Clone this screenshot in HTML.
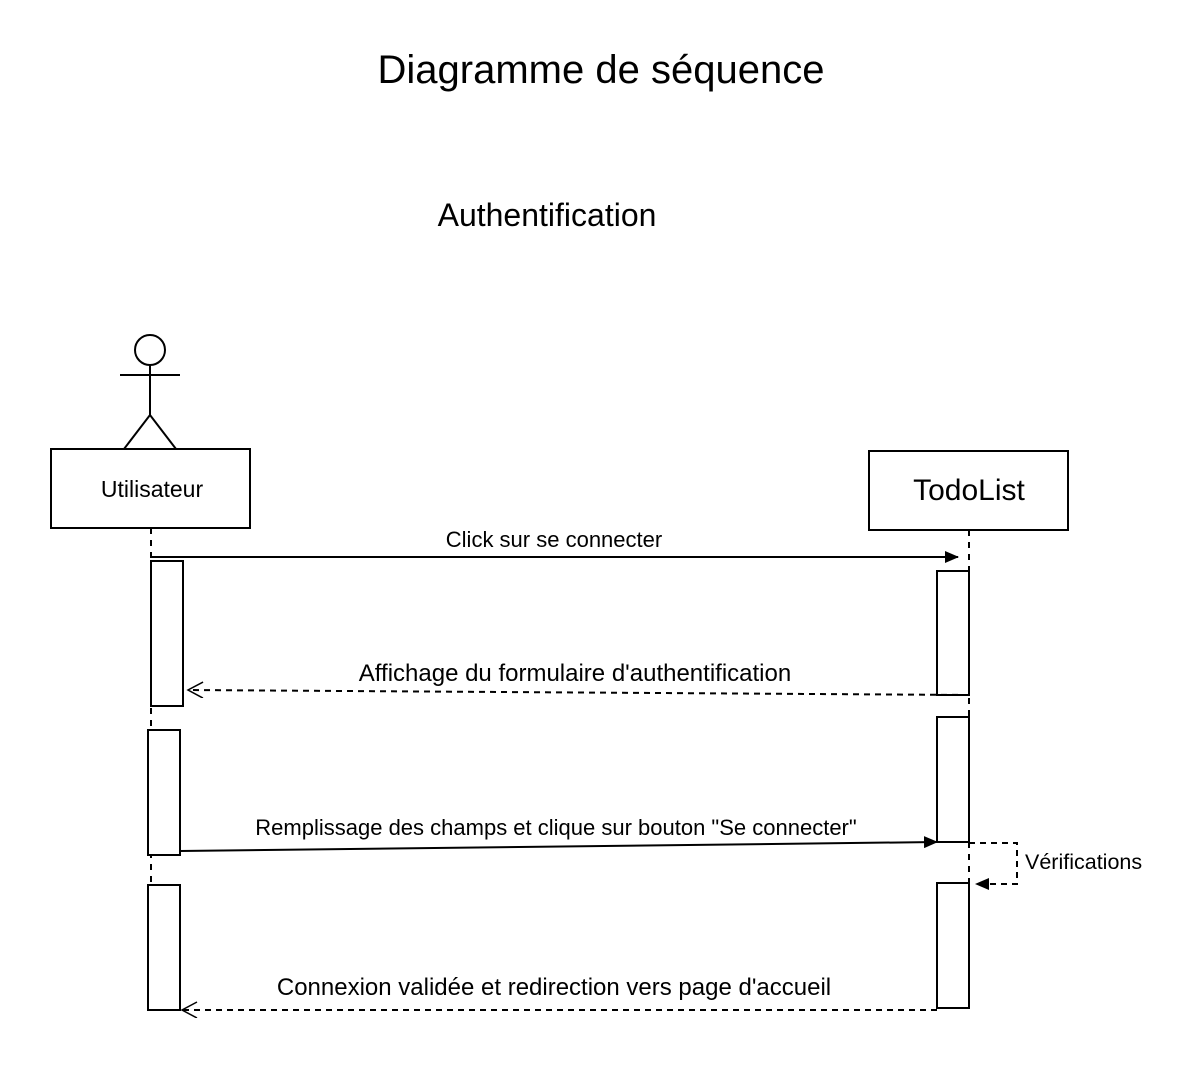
<!DOCTYPE html>
<html><head><meta charset="utf-8"><style>body{margin:0;background:#fff}svg{display:block}text{font-family:"Liberation Sans",sans-serif;fill:#000}</style></head><body>
<svg width="1194" height="1082" viewBox="0 0 1194 1082" xmlns="http://www.w3.org/2000/svg">
<defs>
<marker id="f" markerWidth="14" markerHeight="12" refX="13" refY="6" orient="auto" markerUnits="userSpaceOnUse"><path d="M0,0 L14,6 L0,12 z" fill="#000"/></marker>
<marker id="o" markerWidth="18" markerHeight="18" refX="16" refY="8" orient="auto" markerUnits="userSpaceOnUse"><path d="M1,0 L16,8 L1,16" fill="none" stroke="#000" stroke-width="1.5"/></marker>
</defs>
<text x="601" y="83" font-size="40" text-anchor="middle">Diagramme de séquence</text>
<text x="547" y="226" font-size="32" text-anchor="middle">Authentification</text>
<g stroke="#000" stroke-width="2" fill="none">
<circle cx="150" cy="350" r="15" fill="#fff"/>
<line x1="150" y1="365" x2="150" y2="415"/>
<line x1="120" y1="375" x2="180" y2="375"/>
<polyline points="124,449 150,415 176,449"/>
</g>
<rect x="51" y="449" width="199" height="79" fill="#fff" stroke="#000" stroke-width="2"/>
<text x="152" y="497" font-size="23" text-anchor="middle">Utilisateur</text>
<rect x="869" y="451" width="199" height="79" fill="#fff" stroke="#000" stroke-width="2"/>
<text x="969" y="500" font-size="30" text-anchor="middle">TodoList</text>
<g stroke="#000" stroke-width="2" stroke-dasharray="6,6">
<line x1="151" y1="528" x2="151" y2="1010"/>
<line x1="969" y1="530" x2="969" y2="1008"/>
</g>
<g fill="#fff" stroke="#000" stroke-width="2">
<rect x="151" y="561" width="32" height="145"/>
<rect x="148" y="730" width="32" height="125"/>
<rect x="148" y="885" width="32" height="125"/>
<rect x="937" y="571" width="32" height="124"/>
<rect x="937" y="717" width="32" height="125"/>
<rect x="937" y="883" width="32" height="125"/>
</g>
<g stroke="#000" stroke-width="2" fill="none">
<line x1="151" y1="557" x2="958" y2="557" marker-end="url(#f)"/>
<line x1="969" y1="695" x2="188" y2="690" stroke-dasharray="6,5" marker-end="url(#o)"/>
<line x1="180" y1="851" x2="937" y2="842" marker-end="url(#f)"/>
<polyline points="969,843 1017,843 1017,884 976,884" stroke-dasharray="6,5" marker-end="url(#f)"/>
<line x1="937" y1="1010" x2="182" y2="1010" stroke-dasharray="6,5" marker-end="url(#o)"/>
</g>
<text x="554" y="547" font-size="22" text-anchor="middle">Click sur se connecter</text>
<rect x="358" y="660" width="434" height="24" fill="#fff"/>
<text x="575" y="681" font-size="24" text-anchor="middle">Affichage du formulaire d'authentification</text>
<rect x="255" y="816" width="602" height="24" fill="#fff"/>
<text x="556" y="835" font-size="22" text-anchor="middle">Remplissage des champs et clique sur bouton "Se connecter"</text>
<text x="1025" y="869" font-size="21.5">Vérifications</text>
<rect x="277" y="974" width="553" height="26" fill="#fff"/>
<text x="554" y="995" font-size="24" text-anchor="middle">Connexion validée et redirection vers page d'accueil</text>
</svg>
</body></html>
